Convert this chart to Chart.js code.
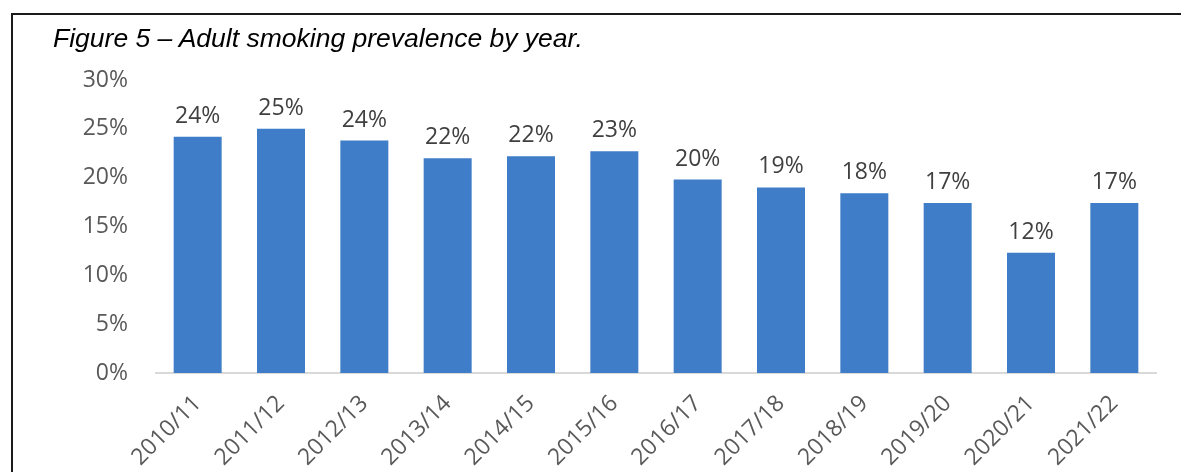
<!DOCTYPE html>
<html>
<head>
<meta charset="utf-8">
<script src="https://cdn.jsdelivr.net/npm/chart.js@4"></script>
<style>
  html, body { margin: 0; padding: 0; background: #fff; overflow: hidden; }
  #wrap { position: relative; width: 1181px; height: 472px; }
  #frame {
    position: absolute; left: 11px; top: 13px; width: 1300px; height: 600px;
    border-top: 2px solid #1a1a1a; border-left: 2px solid #1a1a1a;
    pointer-events: none;
  }
  #caption {
    position: absolute; left: 53px; top: 25px; line-height: 26px;
    font-family: "Liberation Sans", Arial, sans-serif; font-style: italic;
    font-size: 26.5px; color: #000; white-space: nowrap;
  }
  canvas { position: absolute; left: 0; top: 0; }
</style>
</head>
<body>
<div id="wrap">
  <canvas id="barChart" width="1181" height="472"></canvas>
  <div id="frame"></div>
  <div id="caption">Figure 5 – Adult smoking prevalence by year.</div>
</div>
<script>
document.addEventListener('DOMContentLoaded', function () {

    // --- data ---
    const years = ['2010/11', '2011/12', '2012/13', '2013/14', '2014/15', '2015/16',
                   '2016/17', '2017/18', '2018/19', '2019/20', '2020/21', '2021/22'];
    const prevalence = [24.2, 25.0, 23.8, 22.0, 22.2, 22.7, 19.8, 19.0, 18.4, 17.4, 12.3, 17.4];
    const yTicks = [0, 5, 10, 15, 20, 25, 30];

    const fontFamily = '"Open Sans", "Noto Sans", sans-serif';

    // value labels above each bar
    const barLabels = {
        id: 'barLabels',
        afterDatasetsDraw(chart) {
            const ctx = chart.ctx;
            const meta = chart.getDatasetMeta(0);
            ctx.save();
            ctx.font = '23px ' + fontFamily;
            ctx.fillStyle = '#404040';
            ctx.textAlign = 'center';
            ctx.textBaseline = 'alphabetic';
            meta.data.forEach((bar, i) => {
                ctx.fillText(Math.round(prevalence[i]) + '%', bar.x, bar.y - 14);
            });
            ctx.restore();
        }
    };

    const ctxBar = document.getElementById('barChart');
    new Chart(ctxBar, {
        type: 'bar',
        data: {
            labels: years,
            datasets: [{
                label: 'Adult smoking prevalence',
                data: prevalence,
                backgroundColor: '#3F7DC9',
                borderWidth: 0,
                barPercentage: 0.576,
                categoryPercentage: 1.0
            }]
        },
        options: {
            responsive: false,
            animation: false,
            layout: { padding: { top: 80, right: 25, left: 0, bottom: 0 } },
            plugins: {
                legend: { display: false },
                tooltip: { enabled: false }
            },
            scales: {
                x: {
                    grid: { display: false, drawTicks: false },
                    border: { display: true, color: '#D9D9D9', width: 2 },
                    ticks: {
                        color: '#595959',
                        font: { family: fontFamily, size: 23 },
                        minRotation: 45,
                        maxRotation: 45,
                        padding: 17
                    },
                    afterFit(scale) { scale.height = 99; }
                },
                y: {
                    min: 0,
                    max: 30,
                    grid: { display: false, drawTicks: false },
                    border: { display: false },
                    afterBuildTicks(scale) {
                        scale.ticks = yTicks.map(v => ({ value: v }));
                    },
                    ticks: {
                        color: '#595959',
                        font: { family: fontFamily, size: 23 },
                        padding: 28,
                        callback: v => v + '%'
                    },
                    afterFit(scale) { scale.width = 156; }
                }
            }
        },
        plugins: [barLabels]
    });
});
</script>
</body>
</html>
